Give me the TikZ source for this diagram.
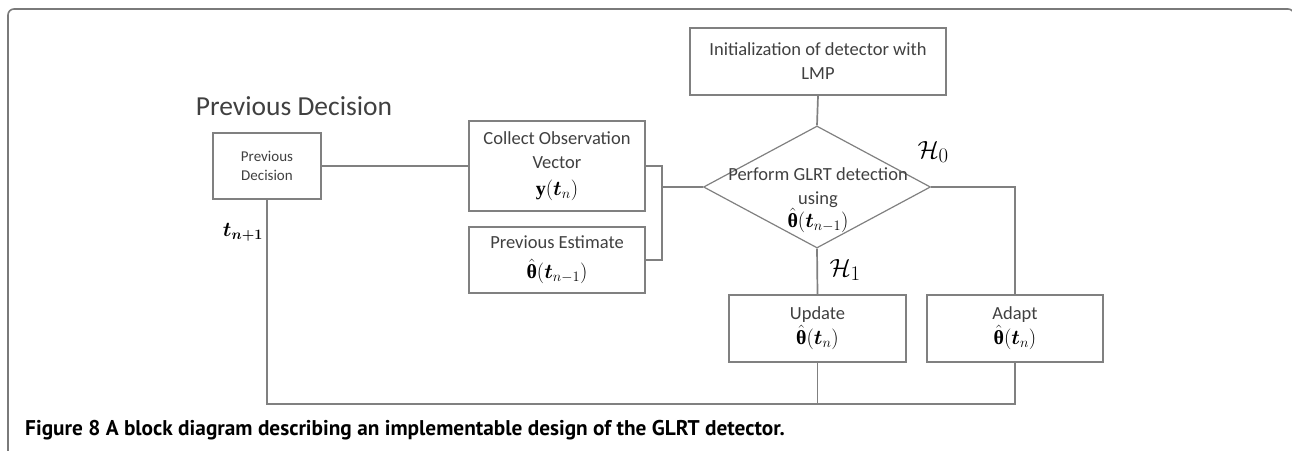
\documentclass[tikz,border=0pt]{standalone}
\usepackage{amsmath}
\usepackage{bm}
\usepackage{fontspec}
\setmainfont{Carlito}
\newfontfamily\capfont{PT Sans}
\newfontfamily\libserif{Liberation Serif}
\usetikzlibrary{shapes.geometric,calc}
\definecolor{linegray}{HTML}{808080}
\definecolor{txtgray}{HTML}{404040}
\definecolor{framegray}{HTML}{7A7A7A}
\tikzset{
  box/.style={draw=linegray, line width=1.5pt, fill=white, inner sep=0pt, align=center, text=txtgray, font=\fontsize{18.5}{24}\selectfont},
  conn/.style={draw=linegray, line width=1.7pt},
  lbl/.style={inner sep=0pt, text=black},
  txt/.style={inner sep=0pt, align=center, text=txtgray, font=\fontsize{18.5}{24}\selectfont},
  mth/.style={},
}
\newcommand{\thb}[1]{{\fontsize{20}{24}\selectfont\color{black}$\hat{\text{\libserif\bfseries θ}}(\bm{t}_{#1})$}}
\newcommand{\ybt}{{\fontsize{20}{24}\selectfont\color{black}$\text{\libserif\bfseries y}(\bm{t}_{n})$}}
\begin{document}
\begin{tikzpicture}[x=1pt,y=-1pt]
\useasboundingbox (0,0) rectangle (1292,450);
\begin{scope}
\clip (0,0) rectangle (1292,450);
\draw[framegray, line width=1.6pt, rounded corners=6pt] (8,460) -- (8,9) -- (1294,9) -- (1294,460);
\end{scope}

% title
\node[txt, font=\fontsize{27.5}{30}\selectfont] (title) at (294,106) {Previous Decision};

% boxes
\node[box, minimum width=108pt, minimum height=66pt, font=\fontsize{15}{19}\selectfont] (prevdec) at (267,166) {Previous\\Decision};
\node[box, minimum width=176pt, minimum height=90pt] (collect) at (557,166) {Collect Observation\\Vector\\[3pt]\ybt};
\node[box, minimum width=176pt, minimum height=66pt] (prevest) at (557,260) {Previous Estimate\\[6pt]\thb{n-1}};
\node[box, minimum width=256pt, minimum height=67pt] (init) at (818,61.5) {Initialization of detector with\\LMP};
\node[draw=linegray, line width=1.2pt, shape=diamond, inner sep=0pt, minimum width=227pt, minimum height=122pt] (dia) at (817,187) {};
\node[txt] (diatxt) at (818,200) {Perform GLRT detection\\using\\[-1pt]\thb{n-1}};
\node[box, minimum width=177pt, minimum height=67pt] (update) at (817.5,328.5) {Update\\[1pt]\thb{n}};
\node[box, minimum width=176pt, minimum height=67pt] (adapt) at (1015,328.5) {Adapt\\[1pt]\thb{n}};

% labels
\node[lbl, font=\fontsize{30}{32}\selectfont] (h0) at (933,152) {$\mathcal{H}_0$};
\node[lbl, font=\fontsize{30}{32}\selectfont] (h1) at (845,270) {$\mathcal{H}_1$};
\node[lbl, font=\fontsize{22}{24}\selectfont] (tn1) at (243,232) {$\bm{t}_{\bm{n+1}}$};

% connectors
\coordinate (j1) at (662,166);
\coordinate (jm) at (662,187);
\coordinate (bot) at (1015,404);
\draw[conn] (prevdec.east) -- (collect.west);
\draw[conn] (collect.east) -- (j1) |- (prevest.east);
\draw[conn] (jm) -- (dia.west);
\draw[conn] (init.south) -- (dia.north);
\draw[conn] (dia.south) -- (update.north);
\draw[conn] (dia.east) -| (adapt.north);
\draw[conn] (adapt.south) -- (bot) -| (prevdec.south);
\draw[conn] (update.south) -- (update.south |- bot);

% caption
\node[anchor=west, inner sep=0pt, font=\capfont\bfseries\fontsize{21.3}{24}\selectfont] (cap) at (25,430) {Figure 8 A block diagram describing an implementable design of the GLRT detector.};
\end{tikzpicture}
\end{document}
